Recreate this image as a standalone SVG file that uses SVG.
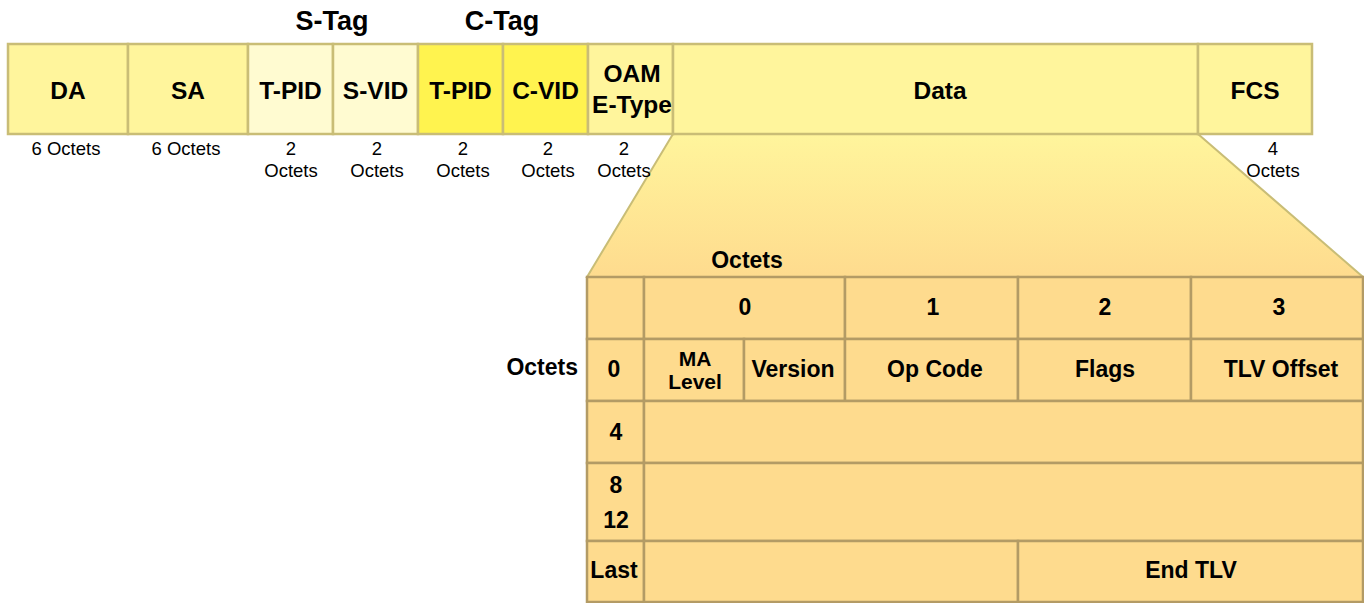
<svg xmlns="http://www.w3.org/2000/svg" width="1364" height="603" viewBox="0 0 1364 603">
<style>
.fld{stroke:#c9bd76;stroke-width:2.5}
.lt{fill:#fff59c}
.st{fill:#fffbd1}
.ct{fill:#fff34f}
.cell{fill:#fedb8e;stroke:#b39b65;stroke-width:2.5}
.b{font-family:"Liberation Sans",Arial,sans-serif;font-weight:bold;font-size:23px;fill:#000;text-anchor:middle}
.bt{font-size:24.5px}
.tag{font-size:27px}
.sm{font-size:21px}
.r{font-family:"Liberation Sans",Arial,sans-serif;font-size:18.5px;fill:#000;text-anchor:middle}
</style>
<defs>
<linearGradient id="zoomGrad" x1="0" y1="0" x2="0" y2="1">
<stop offset="0" stop-color="#fff59c"/>
<stop offset="1" stop-color="#fedb8e"/>
</linearGradient>
</defs>
<rect width="1364" height="603" fill="#ffffff"/>

<g id="expansion">
<polygon points="673,134 1198,134 1363,277 587,277" fill="url(#zoomGrad)" stroke="#c9bd76" stroke-width="2"/>
</g>

<g id="tags">
<text class="b tag" x="332" y="30">S-Tag</text>
<text class="b tag" x="502" y="30">C-Tag</text>
</g>

<g id="field-da">
<rect class="fld lt" x="8" y="44" width="120" height="90"/>
<text class="b bt" x="68" y="99">DA</text>
<text class="r" x="66" y="155">6 Octets</text>
</g>
<g id="field-sa">
<rect class="fld lt" x="128" y="44" width="120" height="90"/>
<text class="b bt" x="188" y="99">SA</text>
<text class="r" x="186" y="155">6 Octets</text>
</g>
<g id="field-s-tpid">
<rect class="fld st" x="248" y="44" width="85" height="90"/>
<text class="b bt" x="290.5" y="99">T-PID</text>
<text class="r" x="291" y="155">2</text>
<text class="r" x="291" y="177">Octets</text>
</g>
<g id="field-s-vid">
<rect class="fld st" x="333" y="44" width="85" height="90"/>
<text class="b bt" x="375.5" y="99">S-VID</text>
<text class="r" x="377" y="155">2</text>
<text class="r" x="377" y="177">Octets</text>
</g>
<g id="field-c-tpid">
<rect class="fld ct" x="418" y="44" width="85" height="90"/>
<text class="b bt" x="460.5" y="99">T-PID</text>
<text class="r" x="463" y="155">2</text>
<text class="r" x="463" y="177">Octets</text>
</g>
<g id="field-c-vid">
<rect class="fld ct" x="503" y="44" width="85" height="90"/>
<text class="b bt" x="545.5" y="99">C-VID</text>
<text class="r" x="548" y="155">2</text>
<text class="r" x="548" y="177">Octets</text>
</g>
<g id="field-oam">
<rect class="fld lt" x="588" y="44" width="85" height="90"/>
<text class="b bt" x="632" y="82">OAM</text>
<text class="b bt" x="632" y="113">E-Type</text>
<text class="r" x="624" y="155">2</text>
<text class="r" x="624" y="177">Octets</text>
</g>
<g id="field-data">
<rect class="fld lt" x="673" y="44" width="525" height="90"/>
<text class="b bt" x="940" y="99">Data</text>
</g>
<g id="field-fcs">
<rect class="fld lt" x="1198" y="44" width="114" height="90"/>
<text class="b bt" x="1255" y="99">FCS</text>
<text class="r" x="1273" y="155">4</text>
<text class="r" x="1273" y="177">Octets</text>
</g>

<g id="table-labels">
<text class="b" x="747" y="268">Octets</text>
<text class="b" x="578" y="375" style="text-anchor:end">Octets</text>
</g>

<g id="table">
<g id="hdr-blank"><rect class="cell" x="587" y="277" width="57" height="62"/></g>
<g id="hdr-0"><rect class="cell" x="644" y="277" width="201" height="62"/><text class="b" x="745" y="315">0</text></g>
<g id="hdr-1"><rect class="cell" x="845" y="277" width="173" height="62"/><text class="b" x="933" y="315">1</text></g>
<g id="hdr-2"><rect class="cell" x="1018" y="277" width="173" height="62"/><text class="b" x="1105" y="315">2</text></g>
<g id="hdr-3"><rect class="cell" x="1191" y="277" width="172" height="62"/><text class="b" x="1279" y="315">3</text></g>

<g id="row0-label"><rect class="cell" x="587" y="339" width="57" height="62"/><text class="b" x="614" y="377">0</text></g>
<g id="ma-level"><rect class="cell" x="644" y="339" width="100" height="62"/><text class="b sm" x="695" y="366">MA</text><text class="b sm" x="695" y="389">Level</text></g>
<g id="version"><rect class="cell" x="744" y="339" width="101" height="62"/><text class="b" x="793" y="377">Version</text></g>
<g id="op-code"><rect class="cell" x="845" y="339" width="173" height="62"/><text class="b" x="935" y="377">Op Code</text></g>
<g id="flags"><rect class="cell" x="1018" y="339" width="173" height="62"/><text class="b" x="1105" y="377">Flags</text></g>
<g id="tlv-offset"><rect class="cell" x="1191" y="339" width="172" height="62"/><text class="b" x="1281" y="377">TLV Offset</text></g>

<g id="row4-label"><rect class="cell" x="587" y="401" width="57" height="62"/><text class="b" x="616" y="440">4</text></g>
<g id="row4-body"><rect class="cell" x="644" y="401" width="719" height="62"/></g>

<g id="row8-label"><rect class="cell" x="587" y="463" width="57" height="78"/><text class="b" x="616" y="493">8</text><text class="b" x="616" y="528">12</text></g>
<g id="row8-body"><rect class="cell" x="644" y="463" width="719" height="78"/></g>

<g id="last-label"><rect class="cell" x="587" y="541" width="57" height="61"/><text class="b" x="614" y="578">Last</text></g>
<g id="last-body"><rect class="cell" x="644" y="541" width="374" height="61"/></g>
<g id="end-tlv"><rect class="cell" x="1018" y="541" width="345" height="61"/><text class="b" x="1191" y="578">End TLV</text></g>
</g>
</svg>
